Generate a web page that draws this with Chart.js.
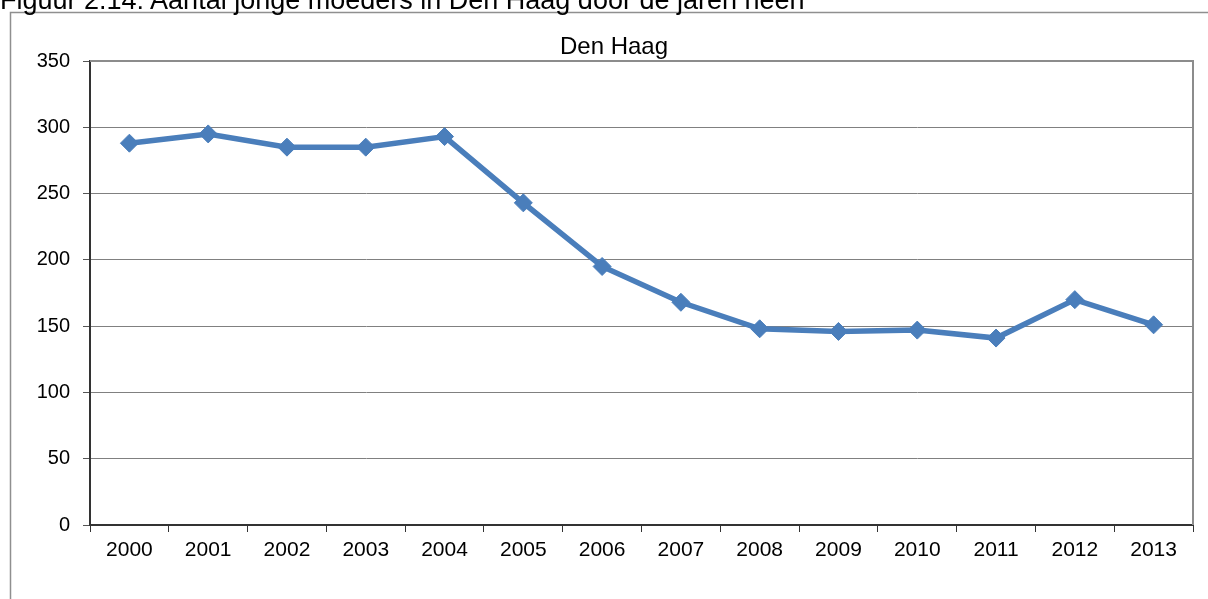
<!DOCTYPE html>
<html>
<head>
<meta charset="utf-8">
<script src="https://cdn.jsdelivr.net/npm/chart.js@4"></script>
<style>
  html, body { margin: 0; padding: 0; background: #fff; overflow: hidden; }
  #bijschrift {
    position: absolute; left: 0; top: -13px;
    font: 27px "Liberation Sans", Arial, sans-serif; line-height: 27px;
    color: #000; white-space: nowrap;
  }
  canvas { position: absolute; left: 0; top: 0; }
</style>
</head>
<body>
<canvas id="moedersChart" width="1208" height="599"></canvas>
<div id="bijschrift">Figuur 2.14: Aantal jonge moeders in Den Haag door de jaren heen</div>
<script>
// Gegevens: aantal jonge moeders per jaar
const jaren = ['2000', '2001', '2002', '2003', '2004', '2005', '2006',
               '2007', '2008', '2009', '2010', '2011', '2012', '2013'];
const aantalMoeders = [288, 295, 285, 285, 293, 243, 195, 168, 148, 146, 147, 141, 170, 151];
const yTicks = [0, 50, 100, 150, 200, 250, 300, 350];
const titel = 'Den Haag';

const blauw = '#4a7ebb';
const lettertype = '"Liberation Sans", Arial, sans-serif';

// kader rond de grafiek, rand van het plotgebied en de titel
const kaderPlugin = {
    id: 'kader',
    beforeDraw(chart) {
        const ctx = chart.ctx;
        ctx.save();
        ctx.strokeStyle = '#8f8f8f';
        ctx.lineWidth = 1.5;
        ctx.strokeRect(10.5, 12.5, 1400, 800);
        ctx.restore();
    },
    afterDatasetsDraw(chart) {
        const { ctx, chartArea: a } = chart;
        ctx.save();
        ctx.strokeStyle = '#8c8c8c';
        ctx.lineWidth = 2;
        ctx.beginPath();
        ctx.moveTo(a.left, a.top);
        ctx.lineTo(a.right, a.top);
        ctx.lineTo(a.right, a.bottom);
        ctx.stroke();
        // titel staat iets rechts van het midden
        ctx.fillStyle = '#000';
        ctx.font = '24px ' + lettertype;
        ctx.textAlign = 'center';
        ctx.textBaseline = 'alphabetic';
        ctx.fillText(titel, 614, 54);
        ctx.restore();
    }
};

const ctx = document.getElementById('moedersChart').getContext('2d');
const moedersChart = new Chart(ctx, {
    type: 'line',
    data: {
        labels: jaren,
        datasets: [{
            label: titel,
            data: aantalMoeders,
            borderColor: blauw,
            backgroundColor: blauw,
            borderWidth: 5.5,
            pointStyle: 'rectRot',
            pointRadius: 9,
            pointBorderWidth: 1,
            pointBackgroundColor: blauw,
            pointBorderColor: blauw,
            tension: 0
        }]
    },
    options: {
        responsive: false,
        animation: false,
        events: [],
        layout: { padding: { left: 0, right: 15, top: 61, bottom: 0 } },
        plugins: {
            legend: { display: false },
            tooltip: { enabled: false },
            title: { display: false }
        },
        scales: {
            x: {
                offset: true,
                grid: {
                    offset: true,
                    drawOnChartArea: false,
                    tickLength: 7,
                    tickColor: '#333'
                },
                border: { color: '#333', width: 2 },
                ticks: {
                    color: '#000',
                    padding: 6,
                    maxRotation: 0,
                    font: { family: lettertype, size: 21 }
                },
                afterFit(scale) { scale.height = 74; }
            },
            y: {
                min: 0,
                max: 350,
                afterBuildTicks(scale) {
                    scale.ticks = yTicks.map(v => ({ value: v }));
                },
                grid: {
                    color: '#808080',
                    tickLength: 7,
                    tickColor: '#555'
                },
                border: { color: '#333', width: 2 },
                ticks: {
                    color: '#000',
                    padding: 13,
                    font: { family: lettertype, size: 20 }
                },
                afterFit(scale) { scale.width = 90; }
            }
        }
    },
    plugins: [kaderPlugin]
});
</script>
</body>
</html>
